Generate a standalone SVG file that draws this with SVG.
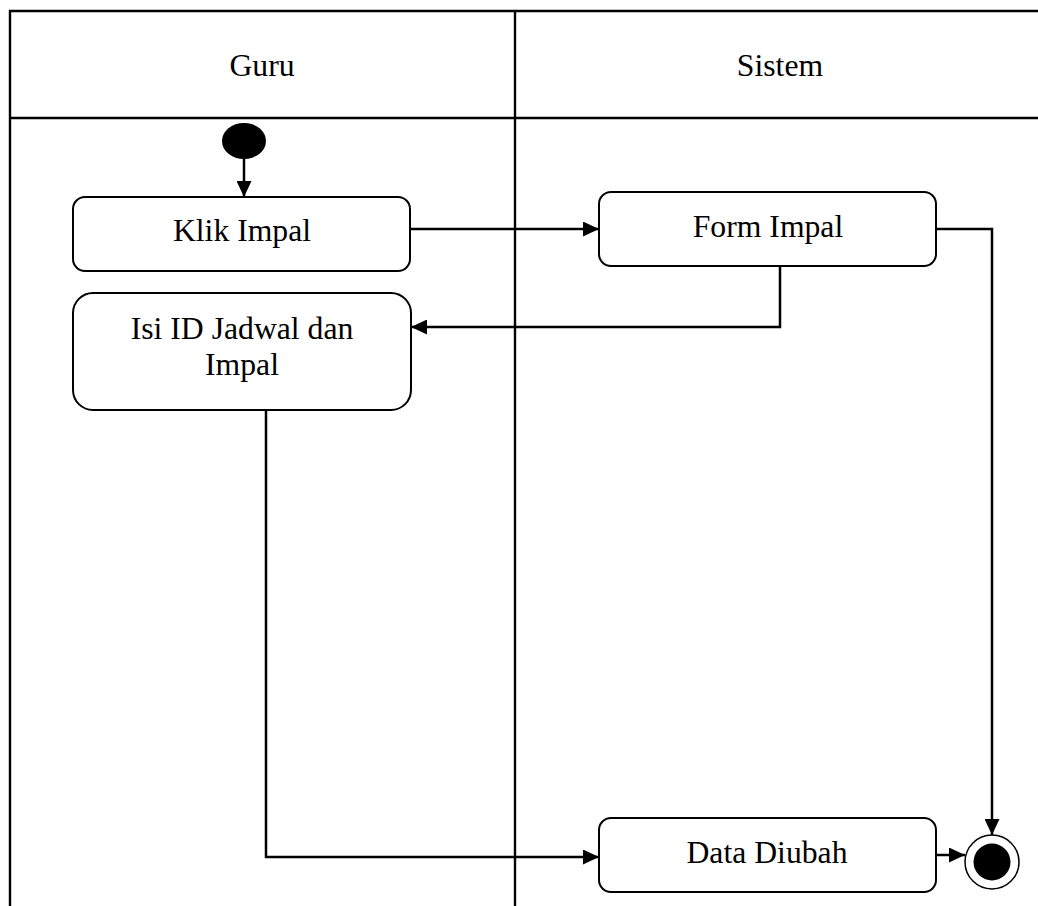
<svg xmlns="http://www.w3.org/2000/svg" width="1038" height="906" viewBox="0 0 1038 906">
<defs>
<marker id="arr" markerWidth="16" markerHeight="15" refX="16" refY="7.5" orient="auto" markerUnits="userSpaceOnUse">
<path d="M0,0 L16,7.5 L0,15 Z" fill="#000"/>
</marker>
<style>
.lane{fill:none;stroke:#000;stroke-width:2.4}
.act{fill:#fff;stroke:#000;stroke-width:2}
.lbl{font-family:"Liberation Serif","Times New Roman",serif;font-size:31.7px;fill:#000;text-anchor:middle}
.con{fill:none;stroke:#000;stroke-width:2.5;marker-end:url(#arr)}
</style>
</defs>
<rect width="1038" height="906" fill="#fff"/>
<g id="swimlanes">
<path class="lane" d="M10,906 V11 H1038 M10,118 H1038 M515,11 V906"/>
<text class="lbl" x="262" y="76">Guru</text>
<text class="lbl" x="780" y="76">Sistem</text>
</g>
<g id="connectors">
<path class="con" d="M244,158 V197"/>
<path class="con" d="M410,229 H599"/>
<path class="con" d="M936,229 H992 V835"/>
<path class="con" d="M780,266 V327 H411"/>
<path class="con" d="M266,410 V857 H599"/>
<path class="con" d="M936,855 H965"/>
</g>
<g id="start">
<ellipse cx="244" cy="141" rx="22" ry="18" fill="#000"/>
</g>
<g id="klik-impal">
<rect class="act" x="73" y="197" width="337" height="74" rx="12"/>
<text class="lbl" x="242" y="241">Klik Impal</text>
</g>
<g id="form-impal">
<rect class="act" x="599" y="192" width="337" height="74" rx="12"/>
<text class="lbl" x="768" y="237">Form Impal</text>
</g>
<g id="isi-id">
<rect class="act" x="73" y="293" width="338" height="117" rx="20"/>
<text class="lbl" x="242" y="339">Isi ID Jadwal dan</text>
<text class="lbl" x="242" y="375">Impal</text>
</g>
<g id="data-diubah">
<rect class="act" x="599" y="818" width="337" height="74" rx="12"/>
<text class="lbl" x="767" y="863">Data Diubah</text>
</g>
<g id="end">
<circle cx="992" cy="862" r="27" fill="#fff" stroke="#000" stroke-width="1.5"/>
<circle cx="992" cy="862" r="18.5" fill="#000"/>
</g>
</svg>
